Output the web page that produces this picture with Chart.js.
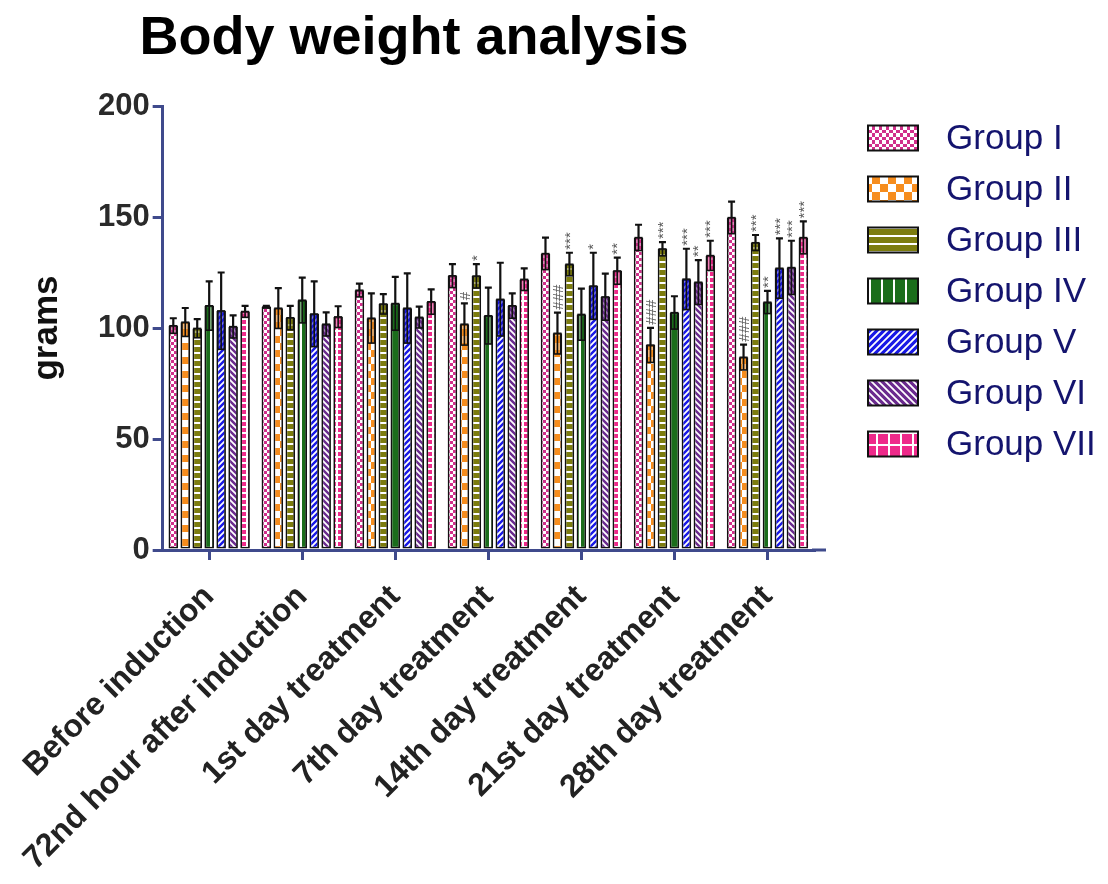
<!DOCTYPE html>
<html>
<head>
<meta charset="utf-8">
<script src="https://cdn.jsdelivr.net/npm/chart.js@4"></script>
<style>
  html, body { margin: 0; padding: 0; background: #fff; }
  #wrap { width: 1108px; height: 884px; position: relative; }
</style>
</head>
<body>
<div id="wrap"><canvas id="c" width="1108" height="884"></canvas></div>
<script>
// Time points on the x axis
const timepoints = [
  'Before induction',
  '72nd hour after induction',
  '1st day treatment',
  '7th day treatment',
  '14th day treatment',
  '21st day treatment',
  '28th day treatment'
];

const groupNames = ['Group I', 'Group II', 'Group III', 'Group IV', 'Group V', 'Group VI', 'Group VII'];

// Mean body weight (g) per time point
const groupI   = [101.0, 109.5, 117.0, 123.5, 133.5, 140.7, 149.7];
const groupII  = [102.6, 108.9, 104.4, 101.7,  97.6,  92.3,  86.8];
const groupIII = [ 99.8, 104.6, 110.8, 123.4, 128.7, 135.6, 138.4];
const groupIV  = [110.0, 112.5, 111.0, 105.5, 106.1, 106.9, 111.6];
const groupV   = [107.7, 106.3, 108.9, 112.9, 118.9, 122.0, 126.9];
const groupVI  = [100.6, 101.7, 104.8, 110.0, 114.0, 120.6, 127.2];
const groupVII = [107.4, 105.0, 111.8, 121.9, 125.7, 132.6, 140.7];

// Standard deviation (g)
const sdI   = [3.4, 0.5, 3.0, 5.3, 7.2, 5.8, 7.2];
const sdII  = [6.4, 9.1, 11.2, 9.4, 9.3, 7.8, 5.7];
const sdIII = [4.2, 5.4, 4.5, 5.4, 5.2, 3.1, 3.5];
const sdIV  = [11.0, 10.2, 12.0, 12.7, 11.6, 7.4, 5.1];
const sdV   = [17.3, 14.7, 15.7, 16.5, 15.0, 13.7, 13.5];
const sdVI  = [5.1, 5.3, 4.8, 5.6, 10.5, 10.0, 12.1];
const sdVII = [2.6, 4.8, 5.6, 5.0, 6.0, 6.7, 7.3];

// Significance marks (# vs normal control, * vs disease control)
const sigI   = ['', '', '', '', '', '', ''];
const sigII  = ['', '', '', '#', '###', '###', '###'];
const sigIII = ['', '', '', '*', '***', '***', '***'];
const sigIV  = ['', '', '', '', '', '', '**'];
const sigV   = ['', '', '', '', '*', '***', '***'];
const sigVI  = ['', '', '', '', '', '**', '***'];
const sigVII = ['', '', '', '', '**', '***', '***'];

// Y axis ticks
const yTicks = [0, 50, 100, 150, 200];

const means = [groupI, groupII, groupIII, groupIV, groupV, groupVI, groupVII];
const sds = [sdI, sdII, sdIII, sdIV, sdV, sdVI, sdVII];
const sigs = [sigI, sigII, sigIII, sigIV, sigV, sigVI, sigVII];

const baseColors = ['#d12f8b', '#f68d1e', '#7c7c0e', '#1b6d1b', '#1818e6', '#6a2a8e', '#ee2a8a'];
const patternKinds = ['fineCheck', 'bigCheck', 'hLines', 'vLines', 'diagUp', 'diagDown', 'grid'];

// Fill patterns; `scale` enlarges the motif for the legend swatches
function makePattern(kind, color, scale) {
  const c = document.createElement('canvas');
  const x = c.getContext('2d');
  let s = 6;
  if (kind === 'bigCheck') s = 14;
  if (kind === 'hLines') s = 7;
  if (kind === 'vLines') s = 9;
  if (kind === 'grid') s = 6;
  if (scale === 'legend') {
    if (kind === 'hLines') s = 8;
    if (kind === 'vLines') s = 12;
    if (kind === 'grid') s = 12;
    if (kind === 'diagUp' || kind === 'diagDown') s = 7;
    if (kind === 'fineCheck') s = 7;
    if (kind === 'bigCheck') s = 16;
  }
  c.width = s; c.height = s;
  const h = Math.round(s / 2);
  x.fillStyle = color;
  x.fillRect(0, 0, s, s);
  x.fillStyle = '#fff';
  x.strokeStyle = '#fff';
  switch (kind) {
    case 'fineCheck':
    case 'bigCheck':
      x.fillRect(0, 0, h, h); x.fillRect(h, h, s - h, s - h); break;
    case 'hLines':
      x.fillRect(0, Math.floor(s / 2) - 1, s, 2); break;
    case 'vLines':
      x.fillRect(Math.floor(s / 2) - 1, 0, 2, s); break;
    case 'diagUp':
      x.lineWidth = 1.8;
      x.beginPath();
      x.moveTo(-1, s + 1); x.lineTo(s + 1, -1);
      x.moveTo(-1, 1); x.lineTo(1, -1);
      x.moveTo(s - 1, s + 1); x.lineTo(s + 1, s - 1);
      x.stroke(); break;
    case 'diagDown':
      x.lineWidth = 1.8;
      x.beginPath();
      x.moveTo(-1, -1); x.lineTo(s + 1, s + 1);
      x.moveTo(s - 1, -1); x.lineTo(s + 1, 1);
      x.moveTo(-1, s - 1); x.lineTo(1, s + 1);
      x.stroke(); break;
    case 'grid':
      x.fillRect(0, 0, s, 2); x.fillRect(0, 0, 2, s); break;
  }
  return x.createPattern(c, 'repeat');
}

const patterns = patternKinds.map((k, i) => makePattern(k, baseColors[i], 'bar'));
const legendPatterns = patternKinds.map((k, i) => makePattern(k, baseColors[i], 'legend'));

const AXIS = '#3f4a8c';
const FONT = "'Liberation Sans', Arial, Helvetica, sans-serif";

// Error bars (SD) and significance marks drawn on top of each bar
const errorBars = {
  id: 'errorBars',
  afterDatasetsDraw(chart) {
    const ctx = chart.ctx;
    const ys = chart.scales.y;
    chart.data.datasets.forEach((ds, di) => {
      const meta = chart.getDatasetMeta(di);
      meta.data.forEach((bar, i) => {
        const v = ds.data[i];
        const e = sds[di][i];
        const w = bar.width;
        const yv = ys.getPixelForValue(v);
        const yHi = ys.getPixelForValue(v + e);
        const yLo = ys.getPixelForValue(v - e);
        ctx.save();
        // lower half of the error bar, shown as a shaded box inside the bar
        ctx.fillStyle = baseColors[di];
        ctx.globalAlpha = 0.6;
        ctx.fillRect(bar.x - w / 2 + 1.5, yv, w - 3, yLo - yv);
        ctx.globalAlpha = 1;
        ctx.strokeStyle = '#111';
        ctx.lineWidth = 1.6;
        ctx.strokeRect(bar.x - w / 2 + 1.5, yv, w - 3, yLo - yv);
        ctx.beginPath();
        ctx.moveTo(bar.x, yLo); ctx.lineTo(bar.x, yv);
        ctx.stroke();
        // upper whisker with cap
        ctx.lineWidth = 2.2;
        ctx.beginPath();
        ctx.moveTo(bar.x, yv); ctx.lineTo(bar.x, yHi);
        ctx.moveTo(bar.x - 3.5, yHi); ctx.lineTo(bar.x + 3.5, yHi);
        ctx.stroke();
        // significance mark
        const mark = sigs[di][i];
        if (mark) {
          ctx.translate(bar.x, yHi - 3);
          ctx.rotate(-Math.PI / 2);
          ctx.fillStyle = '#5a5a5a';
          ctx.font = '15px ' + FONT;
          ctx.textAlign = 'left';
          ctx.textBaseline = 'middle';
          ctx.fillText(mark, 0, 1);
        }
        ctx.restore();
      });
    });
  }
};

// Title, legend and the short overhang of the x axis line
const decorations = {
  id: 'decorations',
  afterDraw(chart) {
    const ctx = chart.ctx;
    const area = chart.chartArea;
    ctx.save();
    ctx.fillStyle = '#000';
    ctx.font = 'bold 54px ' + FONT;
    ctx.textAlign = 'center';
    ctx.textBaseline = 'middle';
    ctx.fillText('Body weight analysis', 414, 39);

    ctx.strokeStyle = AXIS;
    ctx.lineWidth = 3;
    ctx.beginPath();
    ctx.moveTo(area.right - 2, area.bottom);
    ctx.lineTo(area.right + 12, area.bottom);
    ctx.stroke();

    const bx = area.right + 54, bw = 50, bh = 25;
    groupNames.forEach((name, i) => {
      const cy = area.top + 32 + i * 51;
      ctx.fillStyle = legendPatterns[i];
      ctx.fillRect(bx, cy - bh / 2, bw, bh);
      ctx.strokeStyle = '#111';
      ctx.lineWidth = 2;
      ctx.strokeRect(bx, cy - bh / 2, bw, bh);
      ctx.fillStyle = '#14146e';
      ctx.font = '35px ' + FONT;
      ctx.textAlign = 'left';
      ctx.textBaseline = 'middle';
      ctx.fillText(name, bx + 78, cy + 1);
    });
    ctx.restore();
  }
};

new Chart(document.getElementById('c'), {
  type: 'bar',
  data: {
    labels: timepoints,
    datasets: groupNames.map((name, i) => ({
      label: name,
      data: means[i],
      backgroundColor: patterns[i],
      borderColor: '#111',
      borderWidth: 1.8,
      borderSkipped: false,
      barPercentage: 0.8,
      categoryPercentage: 0.9
    }))
  },
  options: {
    responsive: false,
    animation: false,
    devicePixelRatio: 1,
    layout: { padding: { top: 106, right: 294, bottom: 0, left: 0 } },
    plugins: {
      legend: { display: false },
      title: { display: false },
      tooltip: { enabled: false }
    },
    scales: {
      x: {
        afterFit: s => { s.height = 334; },
        grid: {
          offset: false,
          drawOnChartArea: false,
          drawTicks: true,
          tickLength: 10,
          color: AXIS,
          lineWidth: 3
        },
        border: { color: AXIS, width: 3 },
        ticks: {
          minRotation: 45,
          maxRotation: 45,
          autoSkip: false,
          padding: 18,
          color: '#222',
          font: { family: FONT, size: 32, weight: 'bold' }
        }
      },
      y: {
        min: 0,
        max: 200,
        afterFit: s => { s.width = 160; },
        afterBuildTicks: s => { s.ticks = yTicks.map(v => ({ value: v })); },
        grid: {
          drawOnChartArea: false,
          drawTicks: true,
          tickLength: 10,
          color: AXIS,
          lineWidth: 3
        },
        border: { color: AXIS, width: 3 },
        ticks: {
          padding: 3,
          color: '#2a2a2a',
          font: { family: FONT, size: 31, weight: 'bold' }
        },
        title: {
          display: true,
          text: 'grams',
          color: '#111',
          padding: { top: 24, bottom: 0 },
          font: { family: FONT, size: 35, weight: 'bold' }
        }
      }
    }
  },
  plugins: [errorBars, decorations]
});
</script>
</body>
</html>
